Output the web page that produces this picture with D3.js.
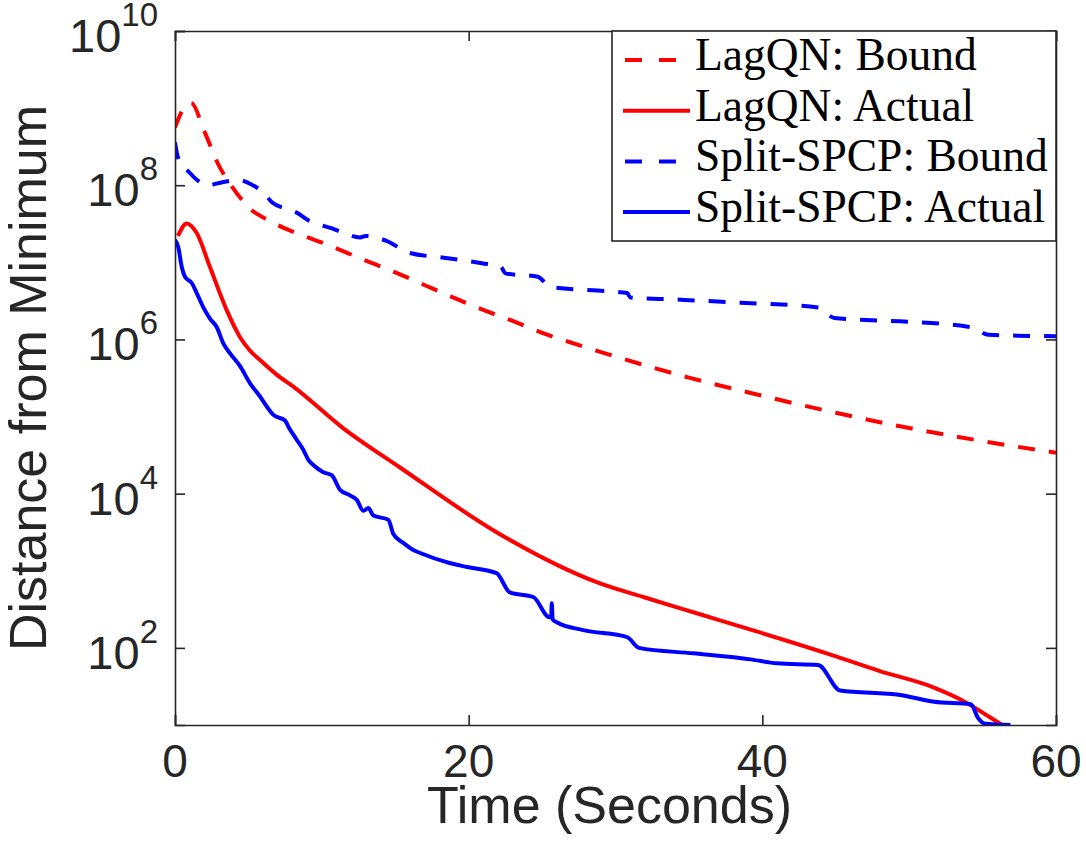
<!DOCTYPE html>
<html>
<head>
<meta charset="utf-8">
<script src="https://cdn.jsdelivr.net/npm/d3@7"></script>
<style>
  body { margin: 0; background: #fff; }
  .axis path, .axis line { stroke: #262626; stroke-width: 1.6; }
  .tick-label { font-family: "Liberation Sans", Arial, sans-serif; fill: #262626; }
  .legend-text { font-family: "Liberation Serif", "Times New Roman", serif; font-size: 45.5px; fill: #000; }
</style>
</head>
<body>
<svg></svg>
<script>
const width = 1086;
const height = 846;
const margin = {left: 175, top: 31, right: 30, bottom: 121};

// time (s) / distance pairs
const lagBoundT = [0, 0.5, 1.1, 2, 3, 4, 5, 6.5, 8.5, 10.5, 12.5, 15, 18.8, 20.9, 23, 25.1, 27.3, 29.4, 35, 40, 45, 50, 55, 60];
const lagBoundV = [5.6e8, 9.3e8, 1.17e9, 5.0e8, 1.78e8, 8.9e7, 5.2e7, 3.4e7, 2.3e7, 1.66e7, 1.15e7, 7.4e6, 3.6e6, 2.45e6, 1.74e6, 1.2e6, 8.7e5, 6.5e5, 3.2e5, 1.86e5, 1.12e5, 7.1e4, 4.8e4, 3.4e4];

const lagActualT = [0.2, 0.8, 1.48, 2.38, 3.52, 4.43, 5.1, 5.79, 6.92, 8.06, 11.4, 15.3, 22.1, 28.9, 32, 35.7, 39.1, 44.8, 48, 51.6, 53.9, 55.5, 56.6];
const lagActualV = [2.2e7, 3.2e7, 2.4e7, 8.7e6, 2.4e6, 1.07e6, 7.2e5, 5.4e5, 3.5e5, 2.45e5, 7.2e4, 2.2e4, 3.0e3, 690, 450, 275, 175, 80, 50, 31, 19.5, 12.6, 9.3];

const splitBoundT = [0, 0.2, 1, 1.5, 2.3, 3, 4.4, 5, 6.2, 6.6, 7.8, 8.3, 9.1, 10.7, 11.4, 12.6, 13, 14.4, 16, 18.3, 20.8, 22.2, 22.5, 24.7, 25.6, 28.8, 30.8, 31, 34, 38.5, 43.8, 44.9, 49.9, 52.2, 54.4, 55.4, 60];
const splitBoundV = [3.6e8, 2.3e8, 1.45e8, 1.17e8, 1.0e8, 1.07e8, 1.17e8, 1.07e8, 7.4e7, 6.0e7, 4.8e7, 4.4e7, 3.5e7, 2.75e7, 2.45e7, 2.1e7, 2.2e7, 1.9e7, 1.32e7, 1.15e7, 9.8e6, 8.7e6, 7.2e6, 6.5e6, 4.8e6, 4.3e6, 4.0e6, 3.5e6, 3.3e6, 3.0e6, 2.6e6, 1.9e6, 1.7e6, 1.6e6, 1.4e6, 1.15e6, 1.1e6];

const splitActualT = [0, 0.22, 0.46, 0.68, 1.14, 1.48, 1.93, 2.38, 2.84, 3.29, 3.75, 4.43, 5.11, 5.79, 6.25, 6.7, 7.49, 7.72, 8.29, 8.74, 9.08, 9.42, 10.1, 10.67, 11.24, 11.92, 12.38, 12.83, 13.17, 13.51, 14.53, 14.87, 15.55, 16.23, 16.7, 18.7, 19.9, 21.9, 22.8, 24.4, 25.5, 25.62, 25.66, 25.72, 26, 27.8, 30.8, 31.6, 35.3, 39.2, 41, 43.8, 45.3, 49.4, 51.7, 54.2, 54.7, 55.1, 56.9];
const splitActualV = [1.95e7, 1.58e7, 8.7e6, 6.5e6, 5.4e6, 4.0e6, 2.6e6, 1.86e6, 1.45e6, 8.9e5, 6.6e5, 4.5e5, 2.7e5, 1.82e5, 1.35e5, 1.05e5, 8.9e4, 7.4e4, 5.0e4, 3.7e4, 2.75e4, 2.35e4, 1.9e4, 1.74e4, 1.12e4, 9.5e3, 8.3e3, 6.0e3, 6.5e3, 5.2e3, 4.6e3, 3.0e3, 2.3e3, 1.86e3, 1.7e3, 1.26e3, 1.12e3, 930, 525, 457, 250, 250, 380, 235, 215, 170, 138, 100, 85, 71, 63, 60, 28, 24.5, 20, 18.6, 12.3, 10.5, 10];

const xTicks = [0, 20, 40, 60];
const yTicks = [2, 4, 6, 8, 10];   // powers of ten

const seriesNames = ["LagQN: Bound", "LagQN: Actual", "Split-SPCP: Bound", "Split-SPCP: Actual"];
const seriesColors = ["#ff0000", "#ff0000", "#0000ff", "#0000ff"];
const seriesDashed = [true, false, true, false];

const series = [
  lagBoundT.map((t, i) => [t, lagBoundV[i]]),
  lagActualT.map((t, i) => [t, lagActualV[i]]),
  splitBoundT.map((t, i) => [t, splitBoundV[i]]),
  splitActualT.map((t, i) => [t, splitActualV[i]])
];

const w = width - margin.left - margin.right;
const h = height - margin.top - margin.bottom;

var x = d3.scaleLinear().domain([0, 60]).range([0, w]);
var y = d3.scaleLog().domain([10, 1e10]).range([h, 0]);

var svg = d3.select("svg").attr("width", width).attr("height", height);
var g = svg.append("g").attr("transform", `translate(${margin.left},${margin.top})`);

g.append("clipPath").attr("id", "clip")
  .append("rect").attr("width", w).attr("height", h);

var line = d3.line()
  .x(d => x(d[0]))
  .y(d => y(d[1]))
  .curve(d3.curveMonotoneX);

var plot = g.append("g").attr("clip-path", "url(#clip)");
plot.selectAll("path")
  .data(series)
  .enter()
  .append("path")
  .attr("d", d => line(d))
  .attr("fill", "none")
  .attr("stroke", (d, i) => seriesColors[i])
  .attr("stroke-width", 4)
  .attr("stroke-dasharray", (d, i) => seriesDashed[i] ? "17,14" : null);

// axes, ticks pointing inward on all four sides
var yVals = yTicks.map(p => Math.pow(10, p));
g.append("g").attr("class", "axis")
  .call(d3.axisLeft(y).tickValues(yVals).tickSize(-10).tickFormat(""));
g.append("g").attr("class", "axis").attr("transform", `translate(${w},0)`)
  .call(d3.axisRight(y).tickValues(yVals).tickSize(-10).tickFormat(""));
g.append("g").attr("class", "axis").attr("transform", `translate(0,${h})`)
  .call(d3.axisBottom(x).tickValues(xTicks).tickSize(-10).tickFormat(""));
g.append("g").attr("class", "axis")
  .call(d3.axisTop(x).tickValues(xTicks).tickSize(-10).tickFormat(""));

// y tick labels 10^n
var yl = g.selectAll(".ylab")
  .data(yTicks)
  .enter()
  .append("text")
  .attr("class", "tick-label")
  .attr("text-anchor", "end")
  .attr("x", -17)
  .attr("y", p => y(Math.pow(10, p)) + 21);
yl.append("tspan").attr("font-size", 47).text("10");
yl.append("tspan").attr("font-size", 33).attr("dy", -26).text(p => p);

// x tick labels
g.selectAll(".xlab")
  .data(xTicks)
  .enter()
  .append("text")
  .attr("class", "tick-label")
  .attr("text-anchor", "middle")
  .attr("font-size", 46)
  .attr("x", d => x(d))
  .attr("y", h + 52)
  .text(d => d);

// axis titles
svg.append("text")
  .attr("class", "tick-label")
  .attr("font-size", 52)
  .attr("text-anchor", "middle")
  .attr("x", margin.left + w / 2 - 6)
  .attr("y", 823)
  .text("Time (Seconds)");

svg.append("text")
  .attr("class", "tick-label")
  .attr("font-size", 52)
  .attr("text-anchor", "middle")
  .attr("transform", `translate(46,${margin.top + h / 2}) rotate(-90)`)
  .text("Distance from Minimum");

// legend
var lg = svg.append("g").attr("transform", "translate(612,31)");
lg.append("rect")
  .attr("width", 444).attr("height", 210)
  .attr("fill", "#fff")
  .attr("stroke", "#262626").attr("stroke-width", 1.6);

var rows = lg.selectAll(".row")
  .data(seriesNames)
  .enter()
  .append("g")
  .attr("transform", (d, i) => `translate(0,${29 + i * 50.7})`);

rows.append("line")
  .attr("x1", (d, i) => seriesDashed[i] ? 13 : 11)
  .attr("x2", (d, i) => seriesDashed[i] ? 64 : 78)
  .attr("stroke", (d, i) => seriesColors[i])
  .attr("stroke-width", 4)
  .attr("stroke-dasharray", (d, i) => seriesDashed[i] ? "17,17" : null);

rows.append("text")
  .attr("class", "legend-text")
  .attr("x", 83)
  .attr("y", 10)
  .text(d => d);
</script>
</body>
</html>
